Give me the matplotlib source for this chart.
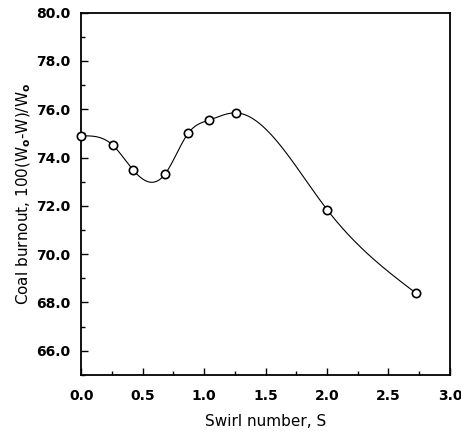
import numpy as np
import matplotlib
matplotlib.use('Agg')
import matplotlib.pyplot as plt
from matplotlib.ticker import MultipleLocator, FormatStrFormatter

# swirl number vs coal burnout
swirl = [0.0, 0.26, 0.42, 0.68, 0.87, 1.04, 1.26, 2.0, 2.72]
burnout = [74.9, 74.5, 73.5, 73.3, 75.0, 75.55, 75.85, 71.85, 68.4]


def cubic_spline(x, y, xs, d0=0.0):
    # clamped start (slope d0), natural end
    x = np.asarray(x, float)
    y = np.asarray(y, float)
    n = len(x)
    h = np.diff(x)
    A = np.zeros((n, n))
    b = np.zeros(n)
    A[0, 0] = 2 * h[0]
    A[0, 1] = h[0]
    b[0] = 6 * ((y[1] - y[0]) / h[0] - d0)
    for i in range(1, n - 1):
        A[i, i - 1] = h[i - 1]
        A[i, i] = 2 * (h[i - 1] + h[i])
        A[i, i + 1] = h[i]
        b[i] = 6 * ((y[i + 1] - y[i]) / h[i] - (y[i] - y[i - 1]) / h[i - 1])
    A[n - 1, n - 1] = 1.0
    M = np.linalg.solve(A, b)
    idx = np.clip(np.searchsorted(x, xs) - 1, 0, n - 2)
    xi, xj = x[idx], x[idx + 1]
    hi = h[idx]
    return (M[idx] * (xj - xs) ** 3 / (6 * hi) + M[idx + 1] * (xs - xi) ** 3 / (6 * hi)
            + (y[idx] / hi - M[idx] * hi / 6) * (xj - xs)
            + (y[idx + 1] / hi - M[idx + 1] * hi / 6) * (xs - xi))


xs = np.linspace(swirl[0], swirl[-1], 400)
ys = cubic_spline(swirl, burnout, xs)

fig = plt.figure(figsize=(4.61, 4.36), dpi=100)
ax = fig.add_axes([0.176, 0.140, 0.800, 0.831])

ax.plot(xs, ys, color='black', lw=0.8)
ax.plot(swirl, burnout, 'o', ms=6, mfc='white', mec='black', mew=1.2, clip_on=False, zorder=3)

ax.set_xlim(0, 3.0)
ax.set_ylim(65, 80)
ax.xaxis.set_major_locator(MultipleLocator(0.5))
ax.xaxis.set_minor_locator(MultipleLocator(0.25))
ax.yaxis.set_major_locator(MultipleLocator(2))
ax.yaxis.set_minor_locator(MultipleLocator(1))
ax.xaxis.set_major_formatter(FormatStrFormatter('%.1f'))
ax.yaxis.set_major_formatter(FormatStrFormatter('%.1f'))
ax.set_yticks(np.arange(66, 80.1, 2))
ax.tick_params(which='both', direction='in', top=False, right=False, width=1.0)
ax.tick_params(which='major', length=5, labelsize=10)
ax.tick_params(axis='x', which='major', pad=10)
ax.tick_params(axis='y', which='major', pad=8)
ax.tick_params(which='minor', length=3)
for lab in ax.get_xticklabels() + ax.get_yticklabels():
    lab.set_fontweight('bold')
for s in ax.spines.values():
    s.set_linewidth(1.3)

ax.set_xlabel('Swirl number, S', fontsize=11, labelpad=8)
ax.set_ylabel(r'Coal burnout, 100(W$_\mathbf{o}$-W)/W$_\mathbf{o}$', fontsize=11, labelpad=2)

fig.savefig('out.png', dpi=100)
